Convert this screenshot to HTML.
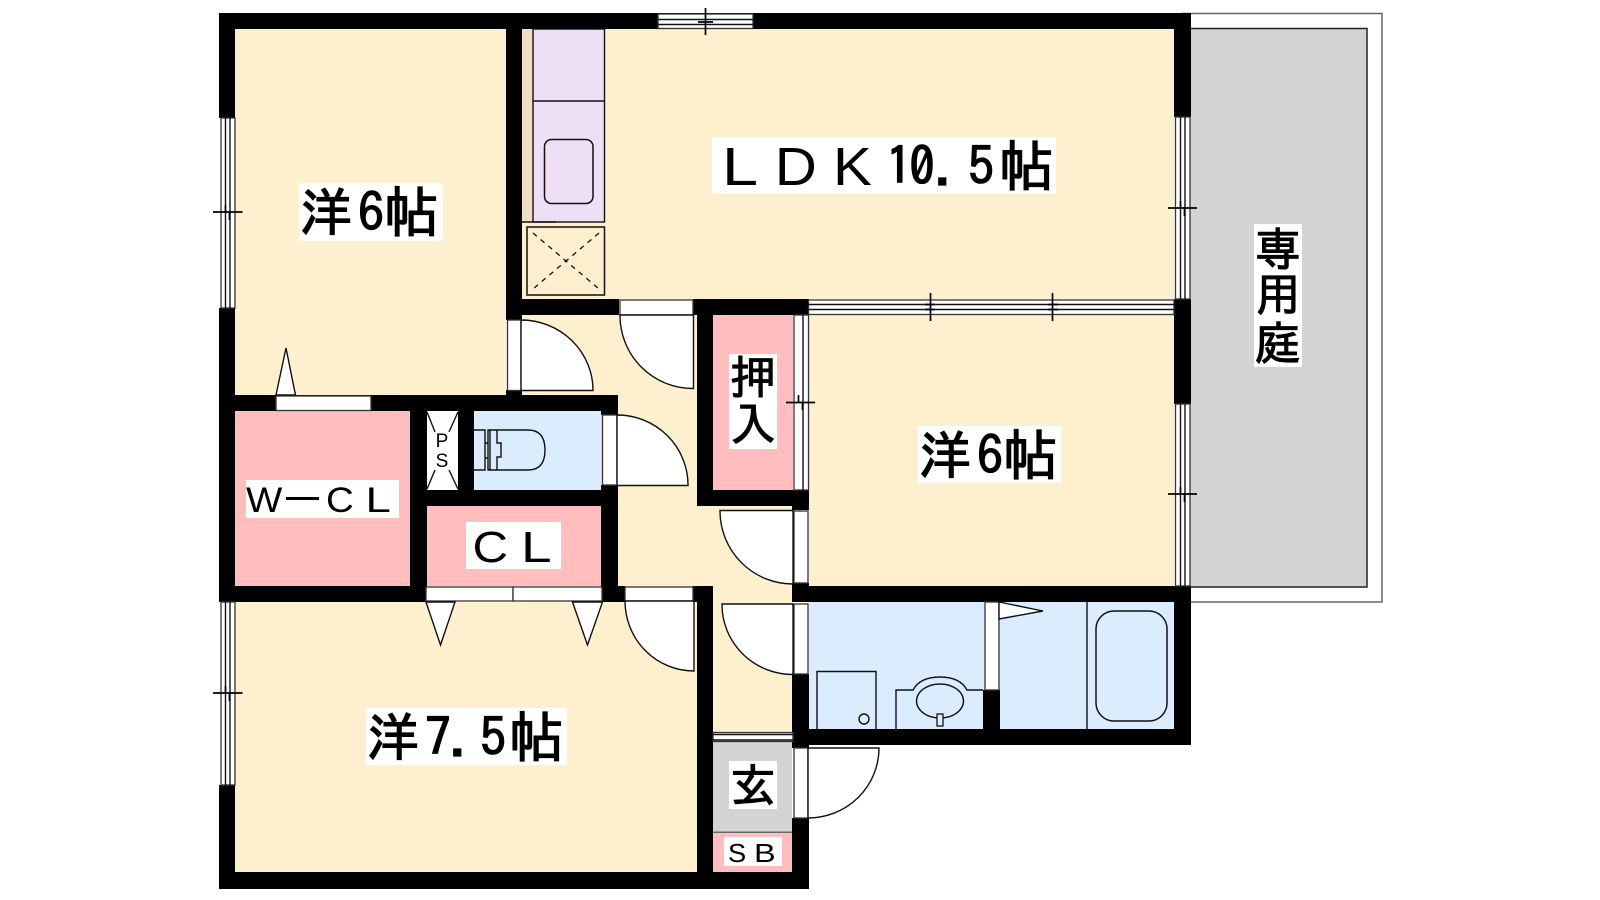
<!DOCTYPE html>
<html><head><meta charset="utf-8"><style>
html,body{margin:0;padding:0;background:#fff;width:1600px;height:900px;overflow:hidden}
svg{display:block}
.j{font-family:"IPAGothic","Noto Sans CJK JP",sans-serif;font-size:52px;fill:#000;stroke:#000;stroke-width:1.3}
.k{font-size:46px;stroke-width:1.1}
.h{font-size:55px}
.l{font-family:"Liberation Sans",sans-serif;fill:#000}
.d{fill:#fff;stroke:#111;stroke-width:1.4}
.t{fill:none;stroke:#111;stroke-width:1.4}
.m{fill:none;stroke:#000;stroke-width:1.7}
.w{fill:#fff;stroke:#333;stroke-width:1.3}
</style></head><body>
<svg width="1600" height="900" viewBox="0 0 1600 900" xmlns="http://www.w3.org/2000/svg">
<!-- garden -->
<rect x="1182" y="13.500" width="200" height="588.500" fill="#fff" stroke="#666" stroke-width="1.500"/>
<rect x="1185" y="28.500" width="182" height="558.500" fill="#d3d3d3" stroke="#222" stroke-width="1.500"/>
<!-- floors -->
<rect x="235" y="29" width="271" height="366" fill="#fef0cf"/>
<rect x="522" y="29" width="652" height="270" fill="#fef0cf"/>
<rect x="522" y="315" width="270" height="417" fill="#fef0cf"/>
<rect x="809" y="315" width="365" height="271" fill="#fef0cf"/>
<rect x="235" y="602" width="462" height="270" fill="#fef0cf"/>
<rect x="235" y="411" width="175" height="175" fill="#ffbdbd"/>
<rect x="427" y="506" width="174" height="80" fill="#ffbdbd"/>
<rect x="713" y="315" width="80" height="175" fill="#ffbdbd"/>
<rect x="713" y="833" width="79" height="39" fill="#ffbdbd"/>
<rect x="713" y="742" width="79" height="90" fill="#d3d3d3"/>
<rect x="713" y="831.500" width="79" height="1.500" fill="#666"/>
<rect x="474" y="411" width="127" height="79" fill="#dbecff"/>
<rect x="809" y="602" width="365" height="127" fill="#dbecff"/>
<rect x="427" y="411" width="31" height="79" fill="#fff"/>
<!-- kitchen -->
<rect x="522" y="29" width="11" height="193" fill="#f0dfc3"/>
<rect x="533" y="29" width="71.500" height="193" fill="#eedff5" stroke="#111" stroke-width="1.400"/>
<path class="t" d="M533 101H604.500M522 222H556"/>
<rect x="544.500" y="139.500" width="48.500" height="64" rx="7" fill="none" stroke="#111" stroke-width="1.500"/>
<rect x="527" y="227" width="77.500" height="68" fill="#fef0cf" stroke="#111" stroke-width="1.500"/>
<path d="M533 233L599 289M599 233L533 289" stroke="#111" stroke-width="1.300" stroke-dasharray="5 5" fill="none"/>
<!-- walls -->
<g fill="#000">
<rect x="219" y="13" width="972" height="16"/>
<rect x="219" y="13" width="16" height="105"/>
<rect x="219" y="308" width="16" height="294"/>
<rect x="219" y="785" width="16" height="104"/>
<rect x="219" y="872" width="590" height="17"/>
<rect x="506" y="29" width="16" height="291"/>
<rect x="506" y="390" width="16" height="6"/>
<rect x="522" y="299" width="97" height="16"/>
<rect x="219" y="395" width="399" height="16"/>
<rect x="219" y="586" width="207" height="16"/>
<rect x="410" y="411" width="17" height="191"/>
<rect x="458" y="411" width="16" height="79"/>
<rect x="427" y="490" width="191" height="16"/>
<rect x="601" y="395" width="17" height="20"/>
<rect x="601" y="485" width="17" height="117"/>
<rect x="601" y="586" width="24" height="16"/>
<rect x="693" y="586" width="20" height="16"/>
<rect x="697" y="586" width="16" height="303"/>
<rect x="693" y="299" width="116" height="16"/>
<rect x="697" y="299" width="16" height="207"/>
<rect x="697" y="490" width="112" height="16"/>
<rect x="792" y="490" width="17" height="20"/>
<rect x="792" y="583" width="17" height="19"/>
<rect x="792" y="586" width="399" height="16"/>
<rect x="792" y="674" width="17" height="71"/>
<rect x="792" y="729" width="399" height="16"/>
<rect x="792" y="732" width="17" height="16"/>
<rect x="792" y="818" width="17" height="71"/>
<rect x="983" y="690" width="17" height="39"/>
<rect x="1174" y="13" width="17" height="104"/>
<rect x="1174" y="299" width="17" height="105"/>
<rect x="1174" y="586" width="17" height="159"/>
</g>
<!-- windows -->
<rect class="w" x="221" y="118" width="14" height="190"/><path class="t" d="M225.500 118V308M230 118V308"/><path class="m" d="M213 212H242.500M225.500 205V212M229.500 212V220"/>
<rect class="w" x="221" y="602" width="14" height="183"/><path class="t" d="M225.500 602V785M230 602V785"/><path class="m" d="M213 693H242.500M225.500 686V693M229.500 693V701"/>
<rect class="w" x="1175.500" y="117" width="14.500" height="182"/><path class="t" d="M1180.500 117V299M1185 117V299"/><path class="m" d="M1168 208H1197M1180.500 201V208M1184.500 208V216"/>
<rect class="w" x="1175.500" y="404" width="14.500" height="182"/><path class="t" d="M1180.500 404V586M1185 404V586"/><path class="m" d="M1168 494H1197M1180.500 487V494M1184.500 494V502"/>
<rect class="w" x="658" y="14" width="95" height="14.500"/><path class="t" d="M658 19.500H753M658 24.500H753"/><path class="m" d="M705.500 8V35M698 22H713"/>
<rect class="w" x="808.500" y="300" width="365.500" height="14.500"/><path class="t" d="M808 304.500H1174M808 309.500H1174"/><path class="m" d="M930.500 293V321M1052.500 293V321M925 304.500H935M925 309.500H935M1048 304.500H1058M1048 309.500H1058"/>
<rect class="w" x="794" y="315" width="14.500" height="175"/><path class="t" d="M803 315V490"/><path class="m" d="M786 402.500H815M798.500 395V402.500M802.500 402.500V410"/>
<rect class="w" x="713" y="732.500" width="80" height="9"/><path class="t" d="M713 734.500H793M713 740H793"/>
<!-- sliding / folding doors -->
<rect class="w" x="276" y="396" width="95" height="14.500"/>
<path class="d" d="M276 395L286 348L295.500 395Z"/>
<rect class="w" x="426" y="587" width="87" height="14"/><rect class="w" x="513" y="587" width="89" height="14"/>
<path class="d" d="M426 602L440.500 645L455 602Z"/>
<path class="d" d="M572.500 602L587.500 645L602.500 602Z"/>
<rect class="w" x="985" y="602" width="14" height="88"/>
<path class="d" d="M999 602L1043 611L999 619Z"/>
<!-- hinged doors -->
<rect class="w" x="507.500" y="320" width="13.500" height="70.500"/><path class="d" d="M521 320A72 70.500 0 0 1 593 390.500H521Z"/>
<rect class="w" x="620" y="300" width="73" height="15"/><path class="d" d="M620 315A73 73 0 0 0 693.500 388.500V315Z"/>
<rect class="w" x="602.500" y="415" width="14.500" height="70"/><path class="d" d="M617 415A71 70 0 0 1 688 485.500H617Z"/>
<rect class="w" x="625" y="587" width="68" height="14"/><path class="d" d="M625 601A69 70 0 0 0 694 671V601Z"/>
<rect class="w" x="794" y="511" width="14" height="72"/><path class="d" d="M720 510.500A73 73 0 0 0 793 584V510.500Z"/>
<rect class="w" x="794" y="604" width="14" height="70"/><path class="d" d="M722 604A71 70 0 0 0 793 674.500V604Z"/>
<rect class="w" x="794" y="748" width="14" height="70"/><path class="d" d="M808 748H879A71 70 0 0 1 808 818Z"/>
<!-- PS -->
<path class="t" d="M427 412L435 432M458 412L449 432M427 489L435 470M458 489L449 470"/>
<text class="l" x="442" y="447" font-size="19" text-anchor="middle">P</text>
<text class="l" x="442" y="467" font-size="19" text-anchor="middle">S</text>
<!-- toilet -->
<path class="t" d="M474 430H485V470H474M485 443H488V458H485M488 443V430H490V470H488V458"/>
<path class="t" d="M490 430H497V443H501V457H497V470H490M497 430H528Q545 430 545 450Q545 470 528 470H497"/>
<!-- bath -->
<path class="t" d="M1087 602V729"/>
<rect x="1096" y="611" width="71" height="110" rx="18" fill="none" stroke="#111" stroke-width="1.500"/>
<path class="t" d="M817 729V671.500H876V729"/>
<circle class="t" cx="864" cy="719" r="5"/>
<path class="t" d="M896 729V690H913Q920 677 940 677Q960 677 967 690H983"/>
<ellipse class="t" cx="940" cy="701" rx="23.500" ry="17"/>
<rect x="937" y="714" width="6" height="12" fill="#dbecff" stroke="#111" stroke-width="1.300"/>
<!-- labels -->
<g fill="#fff">
<rect x="299" y="183" width="144" height="58"/>
<rect x="918" y="426" width="143" height="57"/>
<rect x="729" y="354" width="48" height="95"/>
<rect x="712" y="137" width="344" height="57"/>
<rect x="366" y="708" width="201" height="57"/>
<rect x="729" y="761" width="48" height="48"/>
<rect x="724" y="837" width="58" height="29"/>
<rect x="1254" y="224" width="48" height="143"/>
<rect x="246" y="480" width="153" height="38"/>
<rect x="466" y="522" width="95" height="47"/>
</g>
<text class="j" x="300 358" y="231">洋6</text><text class="j h" x="384" y="232">帖</text>
<text class="j" x="919 977" y="474">洋6</text><text class="j h" x="1003" y="475">帖</text>
<text class="j" x="367 425 449 480" y="756">洋7.5</text><text class="j h" x="509" y="757">帖</text>
<g class="l" font-size="54">
<text transform="translate(722,185) scale(1.2,1)">L</text>
<text transform="translate(774.700,185) scale(1.08,1)">D</text>
<text transform="translate(833,185) scale(1.08,1)">K</text>
</g>
<text class="j" x="886 909 934 968" y="185">10.5</text><text class="j h" x="999" y="186">帖</text>
<text class="j k" x="730" y="394">押</text>
<text class="j k" x="730" y="441">入</text>
<text class="j k" x="730" y="802">玄</text>
<text class="j k" x="1255" y="266">専</text>
<text class="j k" x="1255" y="311">用</text>
<text class="j k" x="1255" y="360">庭</text>
<g class="l" font-size="26">
<text transform="translate(728,862) scale(1.05,1)">S</text>
<text transform="translate(754,862) scale(1.25,1)">B</text>
</g>
<g class="l" font-size="35">
<text transform="translate(246,512) scale(1.1,1)">W</text>
<rect x="286" y="497" width="33" height="3" fill="#000"/>
<text transform="translate(326,512) scale(1.1,1)">C</text>
<text transform="translate(365.500,512) scale(1.3,1)">L</text>
</g>
<g class="l" font-size="44">
<text transform="translate(472.500,562) scale(1.12,1)">C</text>
<text transform="translate(521,562) scale(1.25,1)">L</text>
</g>
</svg>
</body></html>
